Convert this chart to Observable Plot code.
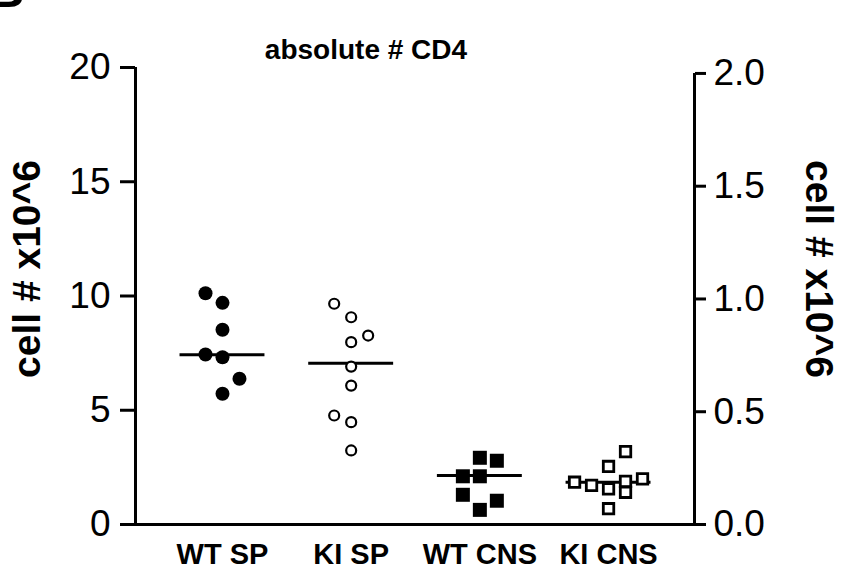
<!DOCTYPE html>
<html>
<head>
<meta charset="utf-8">
<script src="https://cdn.jsdelivr.net/npm/d3@7"></script>
<script src="https://cdn.jsdelivr.net/npm/@observablehq/plot@0.6"></script>
<style>
  html, body { margin: 0; padding: 0; background: white; }
  #chart svg { display: block; }
</style>
</head>
<body>
<div id="chart"></div>
<script>
// ---- data ----
const title = "absolute # CD4";
const yLabel = "cell # x10^6";
const panelLetter = "B";
const groups = ["WT SP", "KI SP", "WT CNS", "KI CNS"];

const wtSP      = [10.12, 9.70, 8.52, 7.44, 7.32, 6.38, 5.72];
const wtSPSlot  = [-1, 0, 0, -1, 0, 1, 0];
const kiSP      = [9.66, 9.07, 7.98, 8.27, 6.91, 6.08, 4.77, 4.48, 3.24];
const kiSPSlot  = [-1, 0, 0, 1, 0, 0, -1, 0, 0];
const wtCNS     = [2.92, 2.79, 2.11, 2.11, 1.30, 1.04, 0.64];
const wtCNSSlot = [0, 1, -1, 0, -1, 1, 0];
const kiCNS     = [3.19, 2.54, 1.85, 1.71, 1.56, 1.89, 1.41, 2.00, 0.69];
const kiCNSSlot = [1, 0, -2, -1, 0, 1, 1, 2, 0];

const medians = [7.43, 7.06, 2.14, 1.85];

const leftTicks = [0, 5, 10, 15, 20];
const rightTicks = [0.0, 0.5, 1.0, 1.5, 2.0];
const rightFactor = 9.87; // right-axis unit expressed in left-axis units

// ---- layout constants ----
const xDomain = [-0.676, 3.668];
const slotWidth = 0.132;
const medianHalf = 0.33;

const series = [wtSP, kiSP, wtCNS, kiCNS];
const slots = [wtSPSlot, kiSPSlot, wtCNSSlot, kiCNSSlot];
const rows = series.flatMap((vals, g) =>
  vals.map((v, i) => ({g, x: g + slots[g][i] * slotWidth, y: v})));
const medRows = medians.map((m, g) => ({g, x1: g - medianHalf, x2: g + medianHalf, y: m}));
const byG = g => rows.filter(d => d.g === g);

const font = "'Liberation Sans', Arial, Helvetica, sans-serif";

const chart = Plot.plot({
  width: 847,
  height: 577,
  marginLeft: 135,
  marginRight: 153,
  marginTop: 67,
  marginBottom: 53,
  style: {fontFamily: font, background: "white", color: "black", overflow: "visible"},
  x: {domain: xDomain, axis: null},
  y: {domain: [0, 20], axis: null},
  marks: [
    // axis lines
    Plot.ruleX([xDomain[0]], {y1: 0, y2: 20, stroke: "black", strokeWidth: 3}),
    Plot.ruleX([xDomain[1]], {y1: 0, y2: 2 * rightFactor, stroke: "black", strokeWidth: 3}),
    Plot.ruleY([0], {stroke: "black", strokeWidth: 3, insetLeft: -15, insetRight: -11}),
    Plot.axisY(leftTicks, {
      anchor: "left", tickSize: 15, tickPadding: 10, fontSize: 37,
      strokeWidth: 3, label: null, tickFormat: d => String(d)
    }),
    Plot.axisY(rightTicks.map(v => v * rightFactor), {
      anchor: "right", tickSize: 11, tickPadding: 8, fontSize: 37,
      strokeWidth: 3, label: null, tickFormat: d => (d / rightFactor).toFixed(1)
    }),
    // medians
    Plot.ruleY(medRows, {x1: "x1", x2: "x2", y: "y", stroke: "black", strokeWidth: 3}),
    // points
    Plot.dot(byG(0), {x: "x", y: "y", symbol: "circle", r: 7, fill: "black", stroke: "none"}),
    Plot.dot(byG(1), {x: "x", y: "y", symbol: "circle", r: 5, fill: "white", stroke: "black", strokeWidth: 2.2}),
    Plot.dot(byG(2), {x: "x", y: "y", symbol: "square", r: 7.9, fill: "black", stroke: "none"}),
    Plot.dot(byG(3), {x: "x", y: "y", symbol: "square", r: 5.9, fill: "white", stroke: "black", strokeWidth: 2.8}),
    // category labels
    Plot.text(groups, {x: (d, i) => i, y: () => 0, dy: 30, fontSize: 29, fontWeight: "bold", fill: "black"}),
    // title
    Plot.text([title], {frameAnchor: "top", dx: -49, dy: -28, fontSize: 28, fontWeight: "bold", fill: "black"}),
    // axis labels
    Plot.text([yLabel], {frameAnchor: "left", textAnchor: "middle", dx: -108, dy: -27, rotate: -90, fontSize: 39, fontWeight: "bold", fill: "black"}),
    Plot.text([yLabel], {frameAnchor: "right", textAnchor: "middle", dx: 124, dy: -27, rotate: 90, fontSize: 39, fontWeight: "bold", fill: "black"}),
    // panel letter (cut off in the reference)
    Plot.text([panelLetter], {frameAnchor: "top-left", dx: -147, dy: -61, textAnchor: "start", lineAnchor: "bottom", fontSize: 50, fontWeight: "bold", fill: "black"})
  ]
});
document.getElementById("chart").append(chart);
</script>
</body>
</html>
